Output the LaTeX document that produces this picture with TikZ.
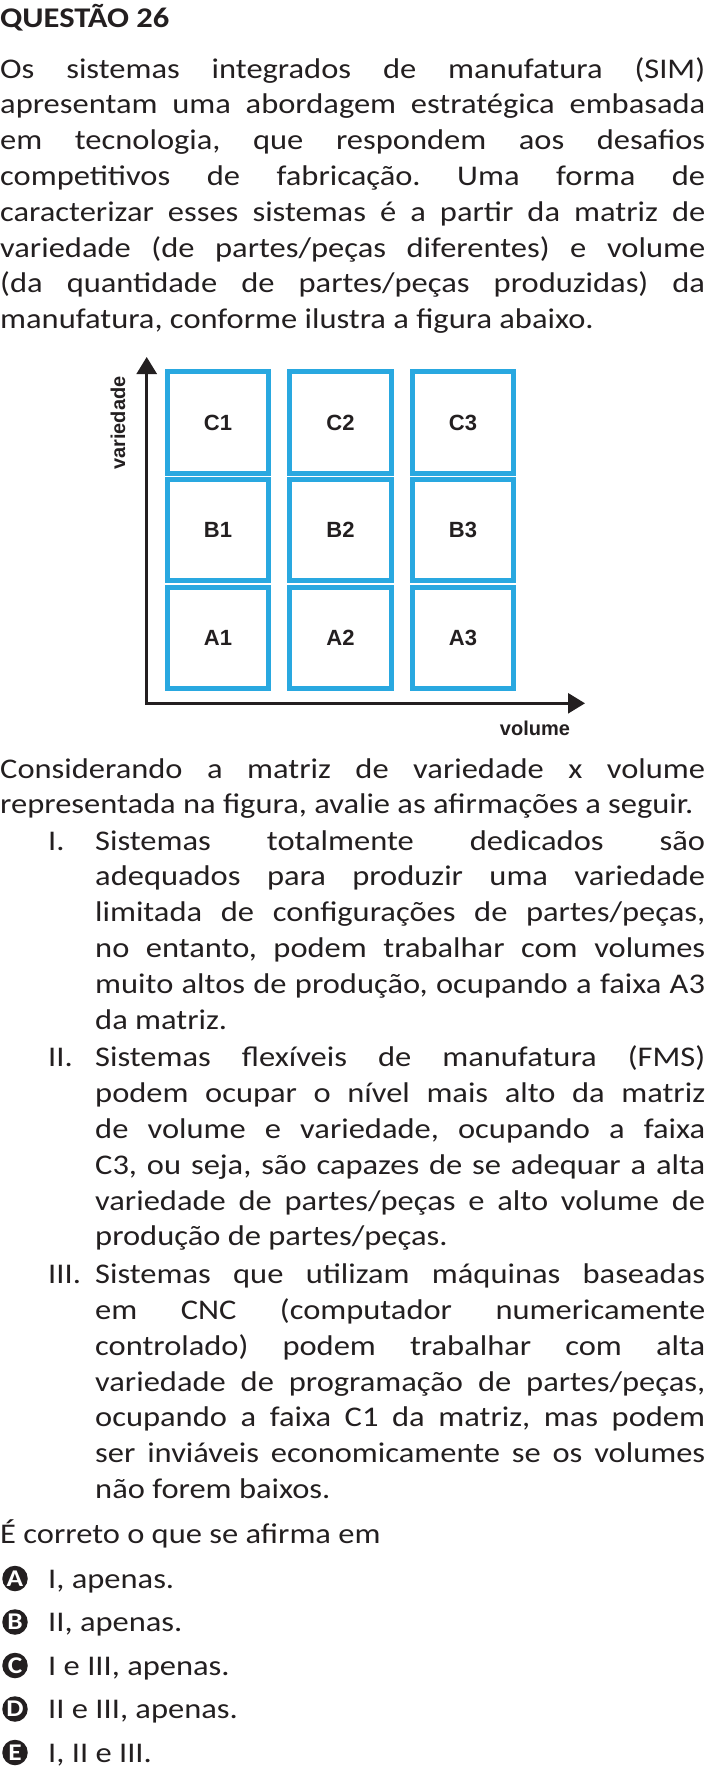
\documentclass[tikz,border=0pt]{standalone}
\usepackage{fontspec}
\setmainfont{Carlito}[FakeStretch=1.14]
\setsansfont{Liberation Sans}
\usetikzlibrary{arrows.meta, positioning}
\definecolor{simblue}{RGB}{41,168,224}
\definecolor{tinta}{RGB}{35,31,32}
\frenchspacing
\newcommand{\corpo}{\fontsize{28.5}{35.8}\selectfont\tolerance=10000\hyphenpenalty=10000\exhyphenpenalty=10000}

\begin{document}
\begin{tikzpicture}[x=1pt, y=-1pt,
    paragrafo/.style={anchor=base west, inner sep=0pt, text width=#1, align=justify, font=\corpo, text=tinta},
    paragrafo/.default=705pt,
    numero/.style={anchor=base west, inner sep=0pt, font=\corpo, text=tinta},
    celula/.style={draw=simblue, line width=4.7pt, minimum size=101.5pt, inner sep=0pt,
      font=\sffamily\bfseries\fontsize{22}{22}\selectfont, text=tinta},
    rotulo/.style={inner sep=0pt, font=\sffamily\bfseries\fontsize{20}{20}\selectfont, text=tinta},
    eixo/.style={line width=2.7pt, draw=tinta, line join=miter,
      {Triangle[length=17pt, width=20pt]}-{Triangle[length=17pt, width=20pt]}},
    alternativa/.style={circle, fill=tinta, text=white, minimum size=25.5pt, inner sep=0pt,
      font=\bfseries\fontsize{24}{24}\selectfont}]
  \path[use as bounding box, fill=white] (0,0) rectangle (709,1770);

  % Statement
  \node[numero, font=\corpo\bfseries] (questao) at (0,27) {QUESTÃO 26};
  \node[paragrafo] (enunciado) at (0,78) {Os sistemas integrados de manufatura (SIM)\linebreak
    apresentam uma abordagem estratégica embasada\linebreak
    em tecnologia, que respondem aos desafios\linebreak
    competitivos de fabricação. Uma forma de\linebreak
    caracterizar esses sistemas é a partir da matriz de\linebreak
    variedade (de partes/peças diferentes) e volume\linebreak
    (da quantidade de partes/peças produzidas) da\linebreak
    manufatura, conforme ilustra a figura abaixo.};

  % Matrix
  \foreach \linha/\ly in {A/638, B/530, C/422.5}
    \foreach \coluna/\cx in {1/218, 2/340.5, 3/463}
      \node[celula] (cel\linha\coluna) at (\cx,\ly) {\linha\coluna};

  % Axes
  \coordinate (origem) at (146.7,703.3);
  \coordinate (topoY) at (146.7,357);
  \coordinate (fimX) at (585,703.3);
  \draw[eixo] (topoY) -- (origem) -- (fimX);
  \node[rotulo, rotate=90, anchor=base] (rotVariedade) at (125,423) {variedade};
  \node[rotulo, anchor=base] (rotVolume) at (535,735) {volume};

  % Items
  \node[paragrafo] (consigna) at (0,778) {Considerando a matriz de variedade x volume\linebreak
    representada na figura, avalie as afirmações a seguir.};
  \node[numero] (numI) at (48,850) {I.};
  \node[paragrafo=610pt] (itemI) at (95,850) {Sistemas totalmente dedicados são\linebreak
    adequados para produzir uma variedade\linebreak
    limitada de configurações de partes/peças,\linebreak
    no entanto, podem trabalhar com volumes\linebreak
    muito altos de produção, ocupando a faixa A3\linebreak
    da matriz.};
  \node[numero] (numII) at (48,1066.8) {II.};
  \node[paragrafo=610pt] (itemII) at (95,1066.8) {Sistemas flexíveis de manufatura (FMS)\linebreak
    podem ocupar o nível mais alto da matriz\linebreak
    de volume e variedade, ocupando a faixa\linebreak
    C3, ou seja, são capazes de se adequar a alta\linebreak
    variedade de partes/peças e alto volume de\linebreak
    produção de partes/peças.};
  \node[numero] (numIII) at (48,1283.6) {III.};
  \node[paragrafo=610pt] (itemIII) at (95,1283.6) {Sistemas que utilizam máquinas baseadas\linebreak
    em CNC (computador numericamente\linebreak
    controlado) podem trabalhar com alta\linebreak
    variedade de programação de partes/peças,\linebreak
    ocupando a faixa C1 da matriz, mas podem\linebreak
    ser inviáveis economicamente se os volumes\linebreak
    não forem baixos.};

  % Answers
  \node[numero] (pergunta) at (0,1543) {É correto o que se afirma em};
  \foreach \letra/\resposta [count=\k from 0] in {A/{I, apenas.}, B/{II, apenas.},
      C/{I e III, apenas.}, D/{II e III, apenas.}, E/{I, II e III.}} {
    \node[alternativa] (alt\letra) at (15,1578.5+43.5*\k) {\letra};
    \node[numero] (resp\letra) at (48,1588+43.5*\k) {\resposta};
  }
\end{tikzpicture}
\end{document}
